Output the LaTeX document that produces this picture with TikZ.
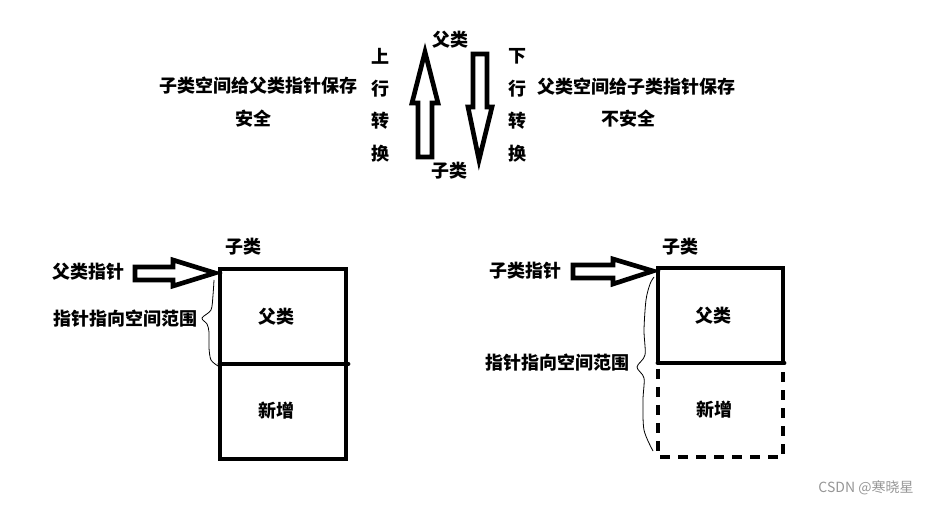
\documentclass[tikz,border=0pt]{standalone}
\usepackage{fontspec}
\newfontfamily\cjk{Noto Sans CJK SC}
\begin{document}
\begin{tikzpicture}[x=0.75pt,y=-0.75pt,
  lbl/.style={font=\cjk\bfseries\fontsize{13.5}{16}\selectfont, inner sep=0pt},
  boxline/.style={line width=3.7pt},
  hollow/.style={line width=3.5pt, line join=miter, miter limit=20},
  bracel/.style={line width=0.6pt}]
\useasboundingbox (0,0) rectangle (932,505);
% ---------- top part ----------
\node[lbl] (fu) at (450,40) {父类};
\node[lbl] (zi) at (449,171) {子类};
\node[lbl] (s1) at (380,56) {上};
\node[lbl] (s2) at (380,89) {行};
\node[lbl] (s3) at (380,121) {转};
\node[lbl] (s4) at (380,154) {换};
\node[lbl] (x1) at (517,56) {下};
\node[lbl] (x2) at (517,89) {行};
\node[lbl] (x3) at (517,121) {转};
\node[lbl] (x4) at (517,154) {换};
\node[lbl] (lt1) at (258,86) {子类空间给父类指针保存};
\node[lbl] (lt2) at (253,119) {安全};
\node[lbl] (rt1) at (636,87) {父类空间给子类指针保存};
\node[lbl] (rt2) at (628,119) {不安全};
% up arrow
\draw[hollow] (418,157) -- (418,103) -- (412,103) -- (425,52) -- (438,103) -- (432,103) -- (432,157) -- cycle;
% down arrow
\draw[hollow] (473,54) -- (487,54) -- (487,107) -- (492,107) -- (479,160) -- (468,107) -- (473,107) -- cycle;
% ---------- bottom left ----------
\node[lbl] (lzi) at (243,247) {子类};
\draw[boxline] (220,269) rectangle (346,459);
\draw[boxline, line cap=round] (220,364) -- (348,364);
\node[lbl] (lfu) at (276,317) {父类};
\node[lbl] (lxz) at (276,411) {新增};
\node[lbl] (lptr) at (88,272) {父类指针};
\draw[hollow] (135,267) -- (173,267) -- (173,260) -- (215,273) -- (173,286) -- (173,280) -- (135,280) -- cycle;
\node[lbl] (lrange) at (125,319) {指针指向空间范围};
\draw[bracel] plot[smooth] coordinates {(214,280) (213,295) (211,310) (202,318) (207,324) (209,332) (209,348) (211,360) (218,366)};
% ---------- bottom right ----------
\node[lbl] (rzi) at (680,247) {子类};
\draw[boxline] (658,363) -- (658,268) -- (783,268) -- (783,363);
\draw[boxline, line cap=round] (658,363) -- (784,363);
\draw[boxline, dash pattern=on 7.5pt off 6pt] (658,369) -- (658,457) -- (783,457) -- (783,369);
\node[lbl] (rfu) at (713,316) {父类};
\node[lbl] (rxz) at (714,410) {新增};
\node[lbl] (rptr) at (525,271) {子类指针};
\draw[hollow] (573,265) -- (613,265) -- (613,259) -- (653,271) -- (613,284) -- (613,278) -- (573,278) -- cycle;
\node[lbl] (rrange) at (557,363) {指针指向空间范围};
\draw[bracel] plot[smooth] coordinates {(654,277) (650,284) (646,300) (644,330) (645,355) (637,367) (644,378) (643,400) (644,430) (653,451)};
% watermark
\node[font=\cjk\fontsize{10.5}{12}\selectfont, text={rgb,255:red,150;green,150;blue,150}, inner sep=0pt] (wm) at (866,488) {CSDN @寒晓星};
\end{tikzpicture}
\end{document}
